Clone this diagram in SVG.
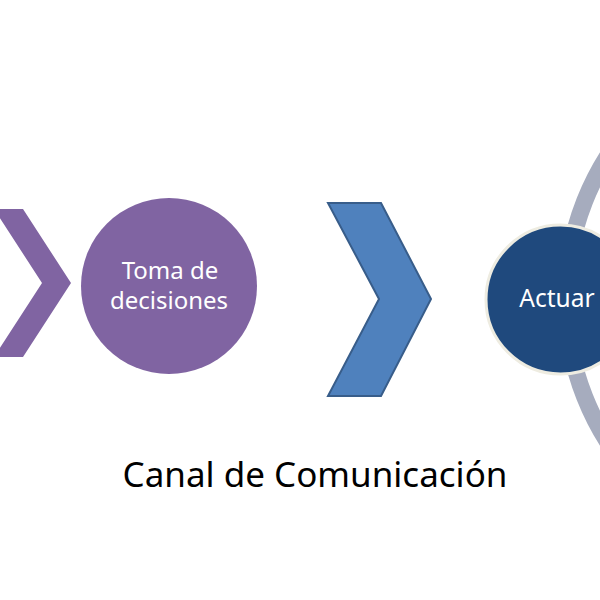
<svg xmlns="http://www.w3.org/2000/svg" width="600" height="600" viewBox="0 0 600 600">
<style>
.lbl{font-family:"Noto Sans","Open Sans","DejaVu Sans",sans-serif;fill:#fff;text-anchor:middle}
.cap{font-family:"Noto Sans","Open Sans","DejaVu Sans",sans-serif;fill:#000;text-anchor:middle}
</style>
<rect width="600" height="600" fill="#fff"/>
<g id="ring">
<circle cx="832" cy="299" r="266" fill="none" stroke="#A6ACBE" stroke-width="17"/>
</g>
<g id="connectors">
<polygon id="chevron1" points="-6,209 23,209 71,283 23,357 -6,357 42,283" fill="#8064A2"/>
<polygon id="chevron2" points="328,203 381,203 431,299 381,396 328,396 379,299" fill="#4F81BD" stroke="#385D8A" stroke-width="2" stroke-linejoin="miter"/>
</g>
<g id="node-toma">
<circle cx="169" cy="286" r="88" fill="#8064A2"/>
<text class="lbl" x="170" y="279" font-size="24">Toma de</text>
<text class="lbl" x="169" y="309" font-size="24" textLength="118" lengthAdjust="spacingAndGlyphs">decisiones</text>
</g>
<g id="node-actuar">
<circle cx="560.5" cy="299.5" r="74.5" fill="#1F497D" stroke="#EEECE1" stroke-width="3"/>
<text class="lbl" x="557" y="307" font-size="24.5">Actuar</text>
</g>
<g id="caption">
<text class="cap" x="315" y="487" font-size="35">Canal de Comunicación</text>
</g>
</svg>
